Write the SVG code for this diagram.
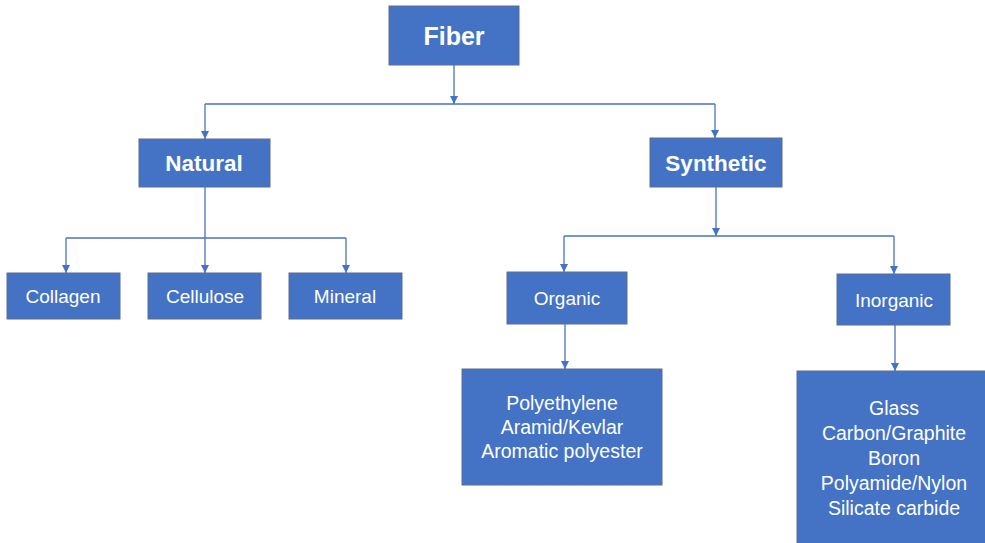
<svg xmlns="http://www.w3.org/2000/svg" width="985" height="543" viewBox="0 0 985 543">
<style>
.box{fill:#4472C4;stroke:#5A6F8E;stroke-width:1}
.t{fill:#fff;font-family:"Liberation Sans",Arial,sans-serif;text-anchor:middle}
.b{font-weight:bold}
.c{fill:none;stroke:#4A72BE;stroke-width:1.3}
</style>
<defs>
<marker id="ah" viewBox="0 0 10 10" refX="10" refY="5" markerWidth="8" markerHeight="8" markerUnits="userSpaceOnUse" orient="auto">
<path d="M0,0 L10,5 L0,10 Z" fill="#4472C4"/>
</marker>
</defs>
<rect width="985" height="543" fill="#fff"/>
<g id="connectors">
<path class="c" d="M454,65 V104" marker-end="url(#ah)"/>
<path class="c" d="M205,104 H715"/>
<path class="c" d="M205,104 V139" marker-end="url(#ah)"/>
<path class="c" d="M715,104 V138" marker-end="url(#ah)"/>
<path class="c" d="M205,187 V238"/>
<path class="c" d="M66,238 H346"/>
<path class="c" d="M66,238 V273" marker-end="url(#ah)"/>
<path class="c" d="M205,238 V273" marker-end="url(#ah)"/>
<path class="c" d="M346,238 V273" marker-end="url(#ah)"/>
<path class="c" d="M716,187 V236" marker-end="url(#ah)"/>
<path class="c" d="M564,236 H894"/>
<path class="c" d="M564,236 V272" marker-end="url(#ah)"/>
<path class="c" d="M894,236 V274" marker-end="url(#ah)"/>
<path class="c" d="M565,324 V369" marker-end="url(#ah)"/>
<path class="c" d="M895,325 V371" marker-end="url(#ah)"/>
</g>
<g id="fiber"><rect class="box" x="389" y="6" width="130" height="59"/><text class="t b" x="454" y="45" font-size="25">Fiber</text></g>
<g id="natural"><rect class="box" x="139" y="139" width="131" height="48"/><text class="t b" x="204" y="171" font-size="22.5">Natural</text></g>
<g id="synthetic"><rect class="box" x="650" y="138" width="132" height="49"/><text class="t b" x="716" y="171" font-size="22.5">Synthetic</text></g>
<g id="collagen"><rect class="box" x="7" y="273" width="113" height="46"/><text class="t" x="63" y="303" font-size="19">Collagen</text></g>
<g id="cellulose"><rect class="box" x="148" y="273" width="113" height="46"/><text class="t" x="205" y="303" font-size="19">Cellulose</text></g>
<g id="mineral"><rect class="box" x="289" y="273" width="113" height="46"/><text class="t" x="345" y="303" font-size="19">Mineral</text></g>
<g id="organic"><rect class="box" x="507" y="272" width="120" height="52"/><text class="t" x="567" y="305" font-size="19">Organic</text></g>
<g id="inorganic"><rect class="box" x="837" y="274" width="113" height="51"/><text class="t" x="894" y="307" font-size="19">Inorganic</text></g>
<g id="organic-list"><rect class="box" x="462" y="369" width="200" height="116"/>
<text class="t" font-size="19.5"><tspan x="562" y="410">Polyethylene</tspan><tspan x="562" y="434">Aramid/Kevlar</tspan><tspan x="562" y="458">Aromatic polyester</tspan></text></g>
<g id="inorganic-list"><rect class="box" x="797" y="371" width="195" height="180"/>
<text class="t" font-size="19.5"><tspan x="894" y="415">Glass</tspan><tspan x="894" y="440">Carbon/Graphite</tspan><tspan x="894" y="465">Boron</tspan><tspan x="894" y="490">Polyamide/Nylon</tspan><tspan x="894" y="515">Silicate carbide</tspan></text></g>
</svg>
